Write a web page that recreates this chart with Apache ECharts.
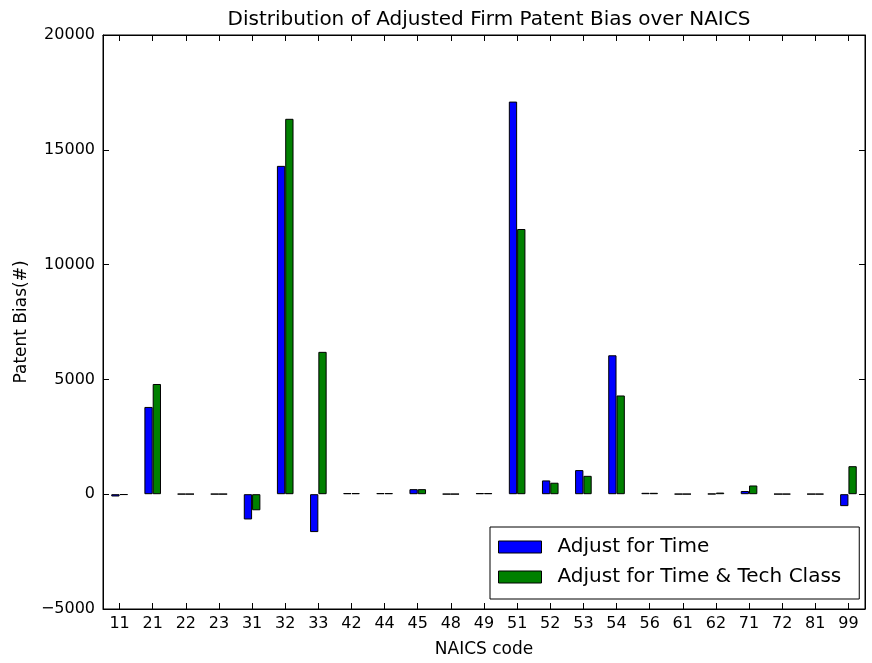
<!DOCTYPE html>
<html><head><meta charset="utf-8">
<script src="https://cdn.jsdelivr.net/npm/echarts@6/dist/echarts.min.js"></script>
<style>html,body{margin:0;padding:0;background:#fff}#c{width:872px;height:663px}</style>
</head><body><div id="c"></div>
<script>
const categories = ['11','21','22','23','31','32','33','42','44','45','48','49','51','52','53','54','56','61','62','71','72','81','99'];
const adjustTime = [-100,3800,10,10,-1100,14300,-1650,50,50,220,10,50,17100,600,1050,6050,60,10,20,140,10,10,-520];
const adjustTimeTech = [-30,4800,10,10,-700,16350,6200,50,50,220,10,50,11550,500,800,4300,60,10,70,380,10,10,1220];
const yTicks = {min:-5000, max:20000, interval:5000};

const font = 'DejaVu Sans';
const chart = echarts.init(document.getElementById('c'), null, {renderer:'canvas'});
const fmt = v => (v < 0 ? '\u2212' + Math.abs(v) : String(v));
chart.setOption({
  animation:false,
  backgroundColor:'#fff',
  title:{text:'Distribution of Adjusted Firm Patent Bias over NAICS', left:484, textAlign:'center', top:5,
    textStyle:{fontFamily:font, fontSize:20, fontWeight:'normal', color:'#000'}},
  grid:{left:103, right:7, top:35, bottom:52, show:true, borderColor:'#000', borderWidth:1, backgroundColor:'#fff'},
  legend:{
    orient:'vertical', left:490, top:527,
    backgroundColor:'#fff', borderColor:'#000', borderWidth:1,
    padding:[10,18,12,8], itemGap:10, itemWidth:43, itemHeight:12,
    icon:'rect',
    itemStyle:{borderColor:'#000', borderWidth:1},
    textStyle:{fontFamily:font, fontSize:20, color:'#000', padding:[0,0,0,11]},
    data:['Adjust for Time','Adjust for Time & Tech Class']
  },
  xAxis:[{
    type:'category', data:categories, position:'bottom', boundaryGap:true,
    name:'NAICS code', nameLocation:'middle', nameGap:32,
    nameTextStyle:{fontFamily:font, fontSize:17, color:'#000'},
    axisLine:{show:true, onZero:false, lineStyle:{color:'#000', width:1}},
    axisTick:{show:true, inside:true, alignWithLabel:true, length:6, lineStyle:{color:'#000'}},
    axisLabel:{fontFamily:font, fontSize:16, color:'#000', margin:7, interval:0},
    splitLine:{show:false}
  },{
    type:'category', data:categories, position:'top', boundaryGap:true,
    axisLine:{show:true, onZero:false, lineStyle:{color:'#000', width:1}},
    axisTick:{show:true, inside:true, alignWithLabel:true, length:6, lineStyle:{color:'#000'}},
    axisLabel:{show:false}, splitLine:{show:false}
  }],
  yAxis:[{
    type:'value', min:yTicks.min, max:yTicks.max, interval:yTicks.interval, position:'left',
    name:'Patent Bias(#)', nameLocation:'middle', nameGap:73, nameRotate:90,
    nameTextStyle:{fontFamily:font, fontSize:17, color:'#000'},
    axisLine:{show:true, lineStyle:{color:'#000', width:1}},
    axisTick:{show:true, inside:true, length:6, lineStyle:{color:'#000'}},
    axisLabel:{fontFamily:font, fontSize:16, color:'#000', margin:8, formatter:fmt},
    splitLine:{show:false}
  },{
    type:'value', min:yTicks.min, max:yTicks.max, interval:yTicks.interval, position:'right',
    axisLine:{show:true, lineStyle:{color:'#000', width:1}},
    axisTick:{show:true, inside:true, length:6, lineStyle:{color:'#000'}},
    axisLabel:{show:false}, splitLine:{show:false}
  }],
  series:[{
    name:'Adjust for Time', type:'bar', data:adjustTime, xAxisIndex:0, yAxisIndex:0,
    barWidth:8.3, barGap:'0%',
    itemStyle:{color:'#0000ff', borderColor:'#000', borderWidth:1}
  },{
    name:'Adjust for Time & Tech Class', type:'bar', data:adjustTimeTech, xAxisIndex:0, yAxisIndex:0,
    barWidth:8.3, barGap:'0%',
    itemStyle:{color:'#008000', borderColor:'#000', borderWidth:1}
  }]
});
</script></body></html>
